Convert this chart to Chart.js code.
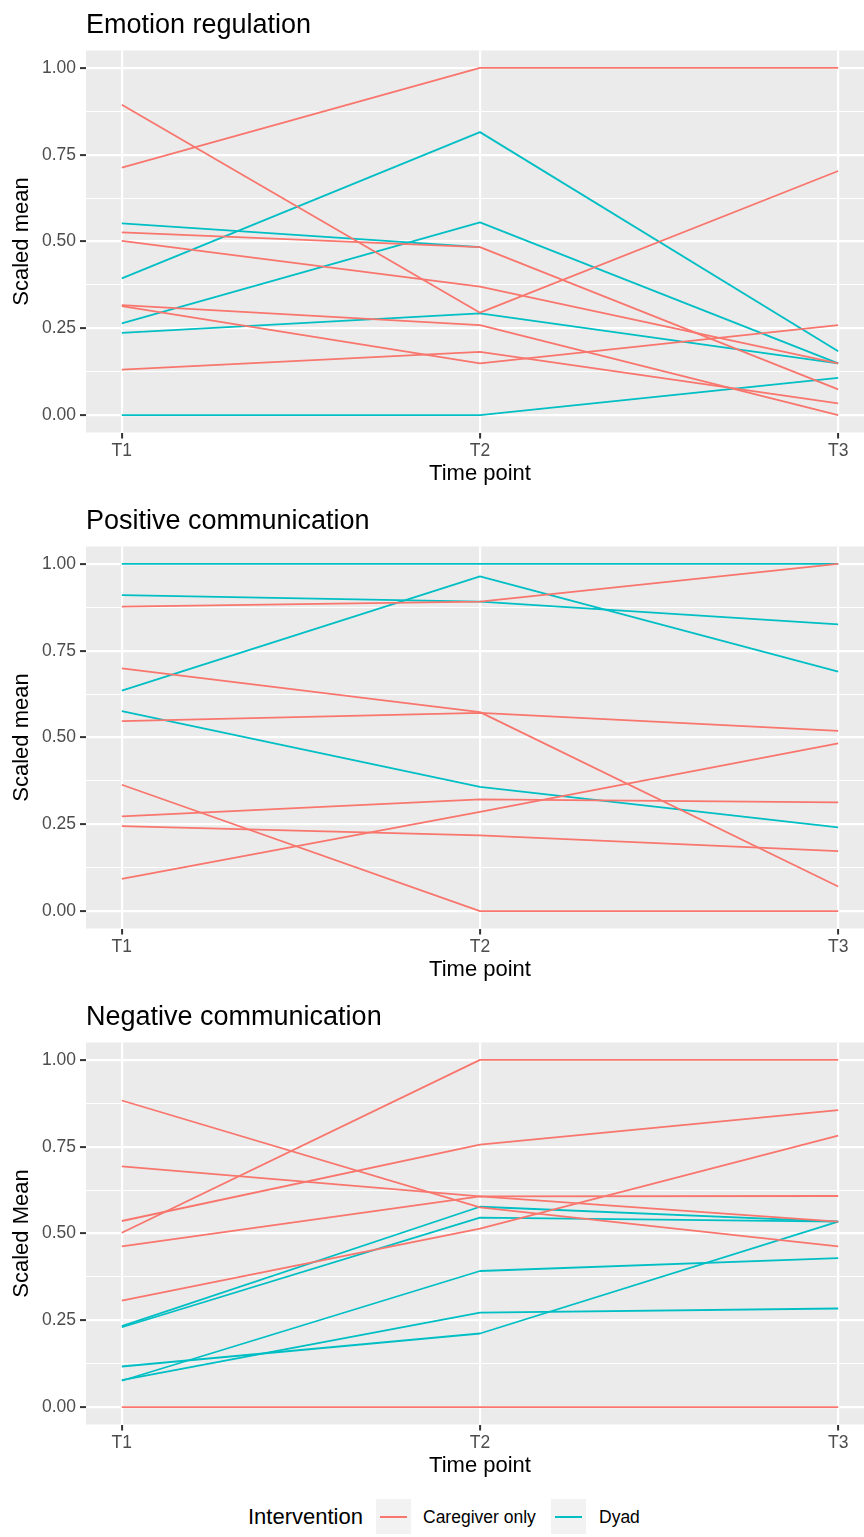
<!DOCTYPE html>
<html>
<head>
<meta charset="utf-8">
<script src="https://cdn.jsdelivr.net/npm/chart.js@4.4.1/dist/chart.umd.min.js"></script>
<style>
  html, body { margin: 0; padding: 0; background: #fff; overflow: hidden; }
  #page { position: relative; width: 864px; height: 1537px; overflow: hidden; }
  .panel { position: absolute; left: 0; width: 874px; height: 496px; }
  .panel canvas { display: block; }
  #legend { position: absolute; left: 0; top: 1488px; width: 864px; height: 49px;
            font-family: "Liberation Sans", Arial, sans-serif; }
  #legend span { position: absolute; white-space: nowrap; }
  .ltitle { font-size: 22px; line-height: 22px; top: 18px; color: #000; }
  .ltext { font-size: 17.5px; line-height: 17.5px; top: 21px; color: #000; }
  .key { position: absolute; top: 11px; width: 35px; height: 35px; background: #F2F2F2; }
  .kline { position: absolute; left: 4px; top: 16.5px; width: 27px; height: 2px; }
</style>
</head>
<body>
<div id="page">
  <div class="panel" style="top:0px"><canvas id="chart1" width="874" height="496"></canvas></div>
  <div class="panel" style="top:496px"><canvas id="chart2" width="874" height="496"></canvas></div>
  <div class="panel" style="top:992px"><canvas id="chart3" width="874" height="496"></canvas></div>
  <div id="legend">
    <span class="ltitle" style="left:248px">Intervention</span>
    <div class="key" style="left:376px"><div class="kline" style="background:#F8766D"></div></div>
    <span class="ltext" style="left:423px">Caregiver only</span>
    <div class="key" style="left:551px"><div class="kline" style="background:#00BFC4"></div></div>
    <span class="ltext" style="left:599px">Dyad</span>
  </div>
</div>
<script>
const timeLabels = ['T1', 'T2', 'T3'];
const timePositions = [1, 2, 3];
const yGridValues = [0, 0.125, 0.25, 0.375, 0.5, 0.625, 0.75, 0.875, 1];

const panelTitles = ['Emotion regulation', 'Positive communication', 'Negative communication'];
const yAxisTitles = ['Scaled mean', 'Scaled mean', 'Scaled Mean'];
const xAxisTitle = 'Time point';

// one row per participant, values at T1, T2, T3
const emotionCaregiver = [
  [0.894, 0.295, 0.703],
  [0.713, 1.000, 1.000],
  [0.526, 0.484, 0.074],
  [0.502, 0.370, 0.149],
  [0.317, 0.259, 0.000],
  [0.314, 0.149, 0.259],
  [0.131, 0.182, 0.034]
];
const emotionDyad = [
  [0.552, 0.484, null],
  [0.394, 0.815, 0.184],
  [0.264, 0.555, 0.149],
  [0.237, 0.293, 0.149],
  [0.000, 0.000, 0.107]
];

const positiveCaregiver = [
  [0.877, 0.891, 1.000],
  [0.699, 0.573, 0.071],
  [0.547, 0.571, 0.519],
  [0.364, 0.000, 0.000],
  [0.273, 0.322, 0.313],
  [0.245, 0.218, 0.173],
  [0.093, 0.286, 0.483]
];
const positiveDyad = [
  [1.000, 1.000, 1.000],
  [0.910, 0.891, 0.826],
  [0.635, 0.964, 0.690],
  [0.576, 0.358, 0.241]
];

const negativeCaregiver = [
  [0.883, 0.575, 0.463],
  [0.693, 0.607, 0.608],
  [0.463, 0.607, 0.534],
  [0.502, 1.000, 1.000],
  [0.536, 0.756, 0.855],
  [0.307, 0.514, 0.782],
  [0.000, 0.000, 0.000]
];
const negativeDyad = [
  [0.233, 0.577, 0.534],
  [0.230, 0.546, 0.534],
  [0.117, 0.212, 0.534],
  [0.078, 0.272, 0.284],
  [0.076, 0.392, 0.429]
];

const RED = '#F8766D';
const CYAN = '#00BFC4';
const FONT = '"Liberation Sans", Arial, sans-serif';

function isMajor(v) {
  return Math.round(v * 8) % 2 === 0;
}

// ggplot puts the title flush with the panel, not the canvas edge
const panelTitle = {
  id: 'panelTitle',
  beforeDraw(chart) {
    const a = chart.chartArea;
    const ctx = chart.ctx;
    ctx.save();
    ctx.fillStyle = '#EBEBEB';
    ctx.fillRect(a.left, a.top, a.right - a.left, a.bottom - a.top);
    ctx.restore();
  },
  afterDraw(chart, args, opts) {
    const ctx = chart.ctx;
    ctx.save();
    ctx.font = '27px ' + FONT;
    ctx.fillStyle = '#000';
    ctx.textBaseline = 'alphabetic';
    ctx.fillText(opts.text, chart.chartArea.left, 33);
    ctx.restore();
  }
};

function lineSet(row, colour) {
  return {
    data: row.map((v, i) => ({ x: timePositions[i], y: v })),
    borderColor: colour,
    borderWidth: 1.8,
    borderJoinStyle: 'round',
    pointRadius: 0,
    fill: false,
    tension: 0
  };
}

function makePanel(id, n, caregiver, dyad) {
  // first datasets are drawn on top, so caregiver lines cover dyad lines
  const datasets = caregiver.map(r => lineSet(r, RED)).concat(dyad.map(r => lineSet(r, CYAN)));

  new Chart(document.getElementById(id), {
    type: 'line',
    data: { datasets: datasets },
    plugins: [panelTitle],
    options: {
      responsive: false,
      animation: false,
      layout: { padding: { top: 50.5, left: 0, right: 0, bottom: 0 } },
      plugins: {
        legend: { display: false },
        tooltip: { enabled: false },
        panelTitle: { text: panelTitles[n] }
      },
      scales: {
        x: {
          type: 'linear',
          min: 0.9,
          max: 3.1,
          bounds: 'data',
          afterBuildTicks: s => { s.ticks = timePositions.map(v => ({ value: v })); },
          afterFit: s => { s.height = 63.5; },
          ticks: {
            callback: v => timeLabels[timePositions.indexOf(v)],
            color: '#4D4D4D',
            font: { family: FONT, size: 17.5 },
            padding: 2,
            maxRotation: 0,
            autoSkip: false
          },
          grid: { color: '#FFFFFF', lineWidth: 2.2, tickColor: '#333333', tickLength: 6, tickWidth: 2 },
          border: { display: false },
          title: {
            display: true,
            text: xAxisTitle,
            color: '#000',
            font: { family: FONT, size: 22 },
            padding: { top: 0, bottom: 9 }
          }
        },
        y: {
          type: 'linear',
          min: -0.05,
          max: 1.05,
          bounds: 'data',
          afterBuildTicks: s => { s.ticks = yGridValues.map(v => ({ value: v })); },
          afterFit: s => { s.width = 86; },
          ticks: {
            callback: v => isMajor(v) ? v.toFixed(2) : '',
            color: '#4D4D4D',
            font: { family: FONT, size: 17.5 },
            padding: 4,
            autoSkip: false
          },
          grid: {
            color: '#FFFFFF',
            lineWidth: c => isMajor(c.tick.value) ? 2.2 : 1.1,
            tickColor: c => isMajor(c.tick.value) ? '#333333' : 'rgba(0,0,0,0)',
            tickLength: 6,
            tickWidth: 2
          },
          border: { display: false },
          title: {
            display: true,
            text: yAxisTitles[n],
            color: '#000',
            font: { family: FONT, size: 22 },
            padding: { top: 9, bottom: 0 }
          }
        }
      }
    }
  });
}

makePanel('chart1', 0, emotionCaregiver, emotionDyad);
makePanel('chart2', 1, positiveCaregiver, positiveDyad);
makePanel('chart3', 2, negativeCaregiver, negativeDyad);
</script>
</body>
</html>
